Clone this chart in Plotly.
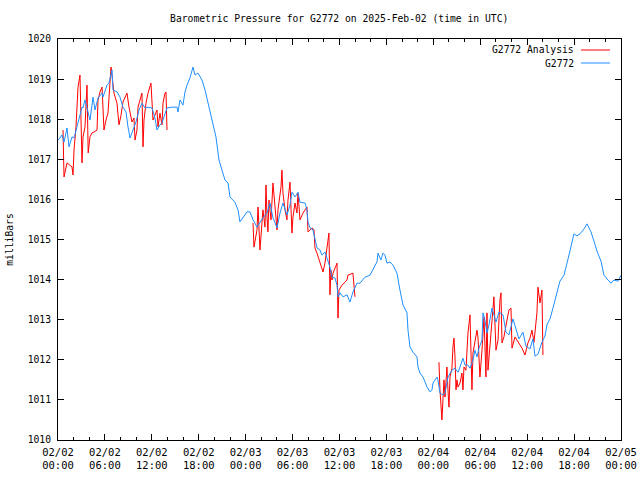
import pandas as pd
import plotly.graph_objects as go

BASE = pd.Timestamp("2025-02-02 00:00")

# G2772 station series: hours since 2025-02-02 00:00 UTC, pressure (mb)
obs_hours = [0.00, 0.26, 0.51, 0.77, 1.15, 1.41, 1.79, 2.05, 2.43, 2.69, 3.07, 3.20, 3.45, 3.84, 4.09, 4.35, 4.48, 4.73,
             5.12, 5.63, 5.75, 6.27, 6.52, 6.91, 7.03, 7.54, 7.93, 8.31, 8.70, 8.95, 9.21, 9.59, 9.97, 10.36, 10.74,
             11.13, 11.51, 12.02, 12.40, 12.66, 13.04, 13.30, 13.68, 13.94, 14.58, 15.22, 15.35, 15.60, 15.98, 16.24,
             16.50, 16.88, 17.26, 17.52, 17.90, 18.41, 18.80, 19.05, 19.44, 19.82, 20.20, 20.59, 21.10, 21.36, 21.74,
             22.00, 22.63, 23.02, 23.27, 23.66, 24.17, 24.55, 24.94, 25.45, 25.83, 26.21, 26.73, 27.11, 27.49, 28.01,
             28.39, 28.77, 29.28, 29.67, 29.92, 30.31, 30.69, 30.95, 31.59, 31.84, 31.97, 32.23, 32.61, 32.86, 33.12,
             33.50, 33.76, 34.14, 34.53, 34.78, 35.04, 35.42, 35.68, 35.81, 36.06, 36.45, 36.96, 37.34, 37.72, 38.24,
             38.62, 39.26, 39.90, 40.28, 40.79, 40.92, 41.30, 41.56, 41.82, 42.07, 42.46, 42.84, 43.35, 43.73, 44.12,
             44.63, 44.76, 45.01, 45.40, 45.91, 46.04, 46.29, 46.68, 46.93, 47.19, 47.57, 47.83, 47.95, 48.47, 48.59,
             48.85, 49.23, 49.49, 49.87, 50.38, 50.77, 51.15, 51.41, 51.79, 52.05, 52.43, 52.69, 53.07, 53.32, 53.58,
             53.84, 54.22, 54.35, 54.60, 54.86, 55.12, 55.50, 56.01, 56.39, 56.91, 57.29, 57.67, 58.18, 58.57, 58.95,
             59.46, 59.85, 60.36, 60.74, 61.00, 61.38, 61.89, 62.28, 62.53, 62.92, 63.30, 63.81, 64.19, 64.71, 65.09,
             65.47, 65.98, 66.37, 66.75, 67.26, 67.65, 68.16, 68.54, 68.93, 69.44, 69.82, 70.33, 70.72, 71.10, 71.61,
             72.00]
obs_press = [1017.48, 1017.53, 1017.61, 1017.43, 1017.78, 1017.31, 1017.56, 1017.53, 1017.81, 1018.03, 1018.30, 1018.28,
             1018.48, 1018.18, 1017.98, 1018.35, 1018.55, 1018.23, 1018.53, 1018.65, 1018.55, 1018.85, 1018.90, 1019.23,
             1018.73, 1018.68, 1018.55, 1018.30, 1018.18, 1017.81, 1017.53, 1017.73, 1017.93, 1018.23, 1018.40, 1018.28,
             1018.30, 1018.28, 1018.03, 1017.73, 1017.86, 1017.91, 1018.10, 1018.28, 1018.30, 1018.30, 1018.18, 1018.48,
             1018.35, 1018.68, 1018.85, 1019.03, 1019.30, 1019.10, 1019.15, 1018.98, 1018.73, 1018.53, 1018.15, 1017.91,
             1017.56, 1016.98, 1016.66, 1016.48, 1016.41, 1016.06, 1015.93, 1015.74, 1015.44, 1015.56, 1015.69, 1015.69,
             1015.49, 1015.31, 1015.44, 1015.54, 1015.66, 1015.91, 1015.54, 1015.29, 1015.66, 1015.91, 1015.61, 1015.86,
             1016.18, 1016.06, 1016.18, 1015.93, 1015.91, 1015.74, 1015.44, 1015.29, 1015.24, 1015.04, 1014.79, 1014.74,
             1014.61, 1014.69, 1014.49, 1014.31, 1014.06, 1014.04, 1013.86, 1013.57, 1013.67, 1013.57, 1013.62, 1013.44,
             1013.69, 1013.91, 1013.91, 1014.06, 1014.11, 1014.24, 1014.44, 1014.66, 1014.49, 1014.66, 1014.61, 1014.41,
             1014.44, 1014.36, 1014.16, 1013.74, 1013.37, 1013.17, 1012.74, 1012.32, 1012.19, 1012.07, 1011.82, 1011.67,
             1011.57, 1011.45, 1011.32, 1011.20, 1011.25, 1011.42, 1011.57, 1011.50, 1011.17, 1011.12, 1011.17, 1011.57,
             1011.74, 1011.79, 1011.69, 1011.82, 1012.04, 1011.87, 1011.87, 1011.79, 1011.99, 1012.24, 1012.07, 1012.29,
             1012.49, 1013.17, 1012.99, 1012.67, 1012.87, 1013.29, 1012.94, 1013.19, 1013.12, 1012.69, 1012.62, 1013.02,
             1012.77, 1012.52, 1012.69, 1012.34, 1012.27, 1012.52, 1012.09, 1012.14, 1012.44, 1012.59, 1012.87, 1013.02,
             1013.29, 1013.72, 1013.96, 1014.11, 1014.39, 1014.71, 1015.14, 1015.09, 1015.14, 1015.26, 1015.39, 1015.19,
             1014.96, 1014.71, 1014.46, 1014.11, 1013.99, 1013.91, 1013.99, 1013.96, 1014.11]

# G2772 Analysis series, three separate runs
ana1_hours = [0.64, 0.77, 1.15, 1.79, 1.92, 2.05, 2.30, 2.56, 2.81, 2.94, 3.07, 3.20, 3.45, 3.71, 3.80, 3.86, 4.09, 4.35,
              4.60, 4.99, 5.12, 5.37, 5.63, 5.88, 6.14, 6.39, 6.78, 6.91, 7.16, 7.54, 7.80, 8.06, 8.31, 8.82, 9.08, 9.46,
              9.72, 9.85, 10.10, 10.23, 10.74, 10.87, 11.00, 11.25, 11.51, 11.89, 12.02, 12.15, 12.66, 12.79, 13.04,
              13.30, 13.43, 13.68, 13.81, 13.94]
ana1_press = [1017.73, 1016.56, 1016.91, 1016.81, 1016.61, 1017.23, 1017.81, 1018.80, 1019.10, 1017.98, 1016.91, 1017.56,
              1017.81, 1018.85, 1018.23, 1017.16, 1017.56, 1017.66, 1017.68, 1017.73, 1018.48, 1018.68, 1018.80, 1017.73,
              1017.98, 1018.15, 1019.30, 1019.05, 1018.65, 1018.40, 1017.86, 1018.10, 1018.43, 1018.65, 1018.30, 1017.93,
              1018.03, 1017.48, 1017.73, 1018.30, 1018.65, 1017.31, 1017.98, 1018.40, 1018.65, 1018.90, 1018.23, 1017.98,
              1018.23, 1017.81, 1018.15, 1017.86, 1018.40, 1018.65, 1018.68, 1017.73]
ana2_hours = [24.94, 25.06, 25.45, 25.58, 25.83, 26.09, 26.21, 26.47, 26.60, 26.73, 26.85, 26.98, 27.24, 27.49, 27.75,
              28.01, 28.13, 28.52, 28.64, 28.77, 29.03, 29.28, 29.41, 29.67, 29.92, 30.05, 30.31, 30.56, 30.69, 30.95,
              31.33, 31.84, 31.97, 32.23, 32.48, 32.74, 32.86, 33.12, 33.50, 33.89, 34.14, 34.40, 34.65, 34.78, 34.91,
              35.04, 35.17, 35.68, 35.81, 35.93, 36.32, 36.96, 37.08, 37.72, 37.98]
ana2_press = [1015.41, 1014.81, 1015.24, 1015.81, 1014.74, 1015.49, 1015.74, 1015.31, 1016.36, 1015.56, 1015.19, 1015.98,
              1015.49, 1016.41, 1015.81, 1015.24, 1015.74, 1016.31, 1016.73, 1016.16, 1015.74, 1015.49, 1015.98, 1016.43,
              1015.16, 1015.56, 1015.91, 1015.66, 1016.16, 1015.49, 1015.66, 1015.81, 1015.19, 1015.24, 1015.29, 1015.24,
              1014.79, 1014.66, 1014.41, 1014.19, 1014.41, 1014.81, 1015.16, 1013.62, 1014.24, 1013.99, 1014.16, 1014.41,
              1013.04, 1013.74, 1013.86, 1013.99, 1014.11, 1014.16, 1013.57]
ana3_hours = [48.72, 48.85, 49.10, 49.23, 49.36, 49.49, 49.74, 49.87, 50.00, 50.13, 50.38, 50.51, 50.64, 50.77, 50.90,
              51.02, 51.15, 51.41, 51.66, 51.79, 51.92, 52.17, 52.30, 52.43, 52.69, 52.94, 53.07, 53.32, 53.58, 53.71,
              53.96, 54.22, 54.35, 54.48, 54.73, 54.86, 54.99, 55.24, 55.63, 55.75, 56.01, 56.27, 56.52, 56.65, 56.78,
              57.03, 57.42, 57.67, 57.93, 58.06, 58.44, 58.82, 59.08, 59.34, 59.72, 60.10, 60.36, 60.61, 60.87, 61.25,
              61.38, 61.64, 61.89, 62.02]
ana3_press = [1011.94, 1011.25, 1010.50, 1010.92, 1011.50, 1011.07, 1011.82, 1011.25, 1010.82, 1011.57, 1011.79, 1012.32,
              1012.54, 1012.07, 1011.25, 1011.50, 1011.32, 1011.42, 1011.67, 1011.25, 1011.82, 1011.74, 1012.32, 1012.67,
              1013.12, 1011.25, 1012.17, 1012.42, 1012.74, 1012.57, 1011.57, 1012.24, 1012.82, 1013.07, 1011.57, 1013.17,
              1011.74, 1012.32, 1013.37, 1013.57, 1012.24, 1012.49, 1013.49, 1013.67, 1012.42, 1012.57, 1012.99, 1013.24,
              1013.29, 1012.29, 1012.57, 1012.44, 1012.37, 1012.29, 1012.12, 1012.42, 1012.54, 1012.74, 1012.44, 1013.17,
              1013.81, 1013.42, 1013.74, 1012.12]

tick_hours = list(range(0, 73, 6))
y_ticks = list(range(1010, 1021))


def to_time(hours):
    return [None if h is None else BASE + pd.Timedelta(hours=h) for h in hours]


ana_hours = ana1_hours + [None] + ana2_hours + [None] + ana3_hours
ana_press = ana1_press + [None] + ana2_press + [None] + ana3_press

FONT = "DejaVu Sans Mono"
RED = "#ff0000"
BLUE = "#1e8fff"

fig = go.Figure()
fig.add_trace(go.Scatter(x=to_time(ana_hours), y=ana_press, mode="lines", name="G2772 Analysis",
                         line=dict(color=RED, width=1), connectgaps=False, showlegend=False))
fig.add_trace(go.Scatter(x=to_time(obs_hours), y=obs_press, mode="lines", name="G2772",
                         line=dict(color=BLUE, width=1), showlegend=False))

tick_times = to_time(tick_hours)
fig.update_layout(
    width=640, height=480,
    margin=dict(l=58, r=19, t=39, b=40, autoexpand=False),
    paper_bgcolor="white", plot_bgcolor="white",
    font=dict(family=FONT, size=10, color="black"),
    title=dict(text="Barometric Pressure for G2772 on 2025-Feb-02 (time in UTC)",
               x=0.53, xanchor="center", y=1 - 19 / 480, yanchor="middle",
               font=dict(family=FONT, size=9.7, color="black")),
    xaxis=dict(range=[BASE, BASE + pd.Timedelta(hours=72)], showgrid=False, zeroline=False,
               showline=True, linecolor="black", linewidth=1, mirror="ticks", automargin=False,
               ticks="inside", ticklen=6, tickcolor="black", tickwidth=1,
               tickvals=tick_times, ticktext=[t.strftime("%m/%d<br>%H:%M") for t in tick_times],
               tickfont=dict(family=FONT, size=10.5), ticklabelstandoff=2,
               minor=dict(dtick=2 * 3600 * 1000, tick0=BASE, ticks="inside", ticklen=3,
                          tickcolor="black", showgrid=False)),
    yaxis=dict(range=[1010, 1020], showgrid=False, zeroline=False,
               showline=True, linecolor="black", linewidth=1, mirror="ticks", automargin=False,
               ticks="inside", ticklen=6, tickcolor="black", tickwidth=1,
               tickvals=y_ticks, ticktext=[str(v) for v in y_ticks],
               tickfont=dict(family=FONT, size=9.7), ticklabelstandoff=4,
               title=dict(text="milliBars", font=dict(family=FONT, size=9.7), standoff=12)),
)

# gnuplot-style key: text right-aligned, line sample to the right
for i, (label, color) in enumerate([("G2772 Analysis", RED), ("G2772", BLUE)]):
    yp = 1 - (50 + 13 * i - 39) / 401
    fig.add_annotation(xref="paper", yref="paper", x=(576 - 58) / 563, y=yp, text=label,
                       showarrow=False, xanchor="right", yanchor="middle",
                       font=dict(family=FONT, size=9.7, color="black"))
    fig.add_shape(type="line", xref="paper", yref="paper",
                  x0=(581 - 58) / 563, x1=(610 - 58) / 563, y0=yp, y1=yp,
                  line=dict(color=color, width=1))

fig.write_html("out.html", config={"displayModeBar": False},
               post_script="document.body.style.margin='0';")
